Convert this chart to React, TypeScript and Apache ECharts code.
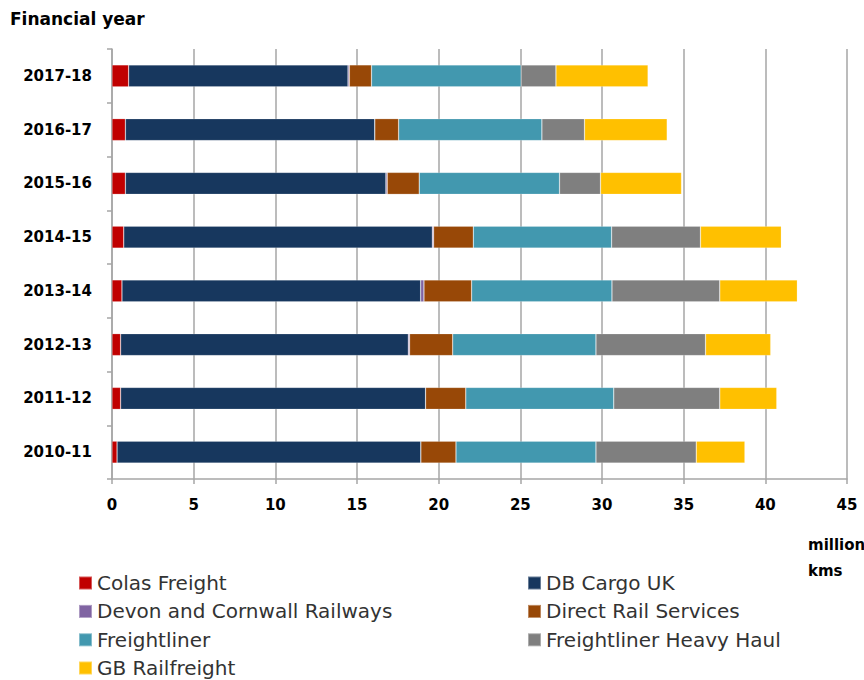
import React, { useEffect, useRef } from "react";
import * as echarts from "echarts";

const years = ["2010-11", "2011-12", "2012-13", "2013-14", "2014-15", "2015-16", "2016-17", "2017-18"];
const colas = [0.31, 0.53, 0.53, 0.61, 0.72, 0.82, 0.82, 1.02];
const dbCargo = [18.6, 18.67, 17.61, 18.29, 18.89, 15.95, 15.27, 13.43];
const devon = [0.0, 0.0, 0.08, 0.2, 0.08, 0.08, 0.0, 0.08];
const drs = [2.15, 2.46, 2.64, 2.92, 2.43, 1.96, 1.46, 1.36];
const freightliner = [8.57, 9.06, 8.77, 8.59, 8.47, 8.59, 8.77, 9.16];
const fhh = [6.14, 6.49, 6.71, 6.6, 5.44, 2.51, 2.61, 2.13];
const gbrf = [2.98, 3.49, 3.99, 4.75, 4.95, 4.96, 5.06, 5.64];

const seriesNames = [
  "Colas Freight",
  "DB Cargo UK",
  "Devon and Cornwall Railways",
  "Direct Rail Services",
  "Freightliner",
  "Freightliner Heavy Haul",
  "GB Railfreight",
];
const seriesData = [colas, dbCargo, devon, drs, freightliner, fhh, gbrf];
const colors = ["#C00000", "#17375E", "#8064A2", "#984807", "#4298AF", "#7F7F7F", "#FFC000"];

const xTicks = { min: 0, max: 45, interval: 5 };

export default function App() {
  const ref = useRef<HTMLDivElement>(null);
  useEffect(() => {
    const chart = echarts.init(ref.current!, null, { renderer: "svg" });
    const legendText = { fontFamily: "DejaVu Sans", fontSize: 20, color: "#333", lineHeight: 20 };
    const legendBase = {
      orient: "vertical",
      itemWidth: 13,
      itemHeight: 13,
      itemGap: 8.4,
      icon: "rect",
      textStyle: legendText,
    };
    chart.setOption({
      animation: false,
      grid: { left: 112, right: 17, top: 49, bottom: 201, containLabel: false },
      title: {
        text: "Financial year",
        left: 5,
        top: 5,
        textStyle: { fontFamily: "DejaVu Sans", fontWeight: "bold", fontSize: 17, color: "#000" },
      },
      xAxis: {
        type: "value",
        min: xTicks.min,
        max: xTicks.max,
        interval: xTicks.interval,
        axisLine: { show: true, lineStyle: { color: "#a6a6a6", width: 1.5 } },
        axisTick: { show: true, length: 5, lineStyle: { color: "#a6a6a6", width: 1.5 } },
        splitLine: { show: true, lineStyle: { color: "#a6a6a6", width: 1.5 } },
        axisLabel: { margin: 18, fontFamily: "DejaVu Sans", fontWeight: "bold", fontSize: 15, color: "#000" },
      },
      yAxis: {
        type: "category",
        data: years,
        axisLine: { show: true, lineStyle: { color: "#a6a6a6", width: 1.5 } },
        axisTick: { show: true, length: 5, lineStyle: { color: "#a6a6a6", width: 1.5 } },
        axisLabel: { margin: 20, fontFamily: "DejaVu Sans", fontWeight: "bold", fontSize: 15, color: "#000" },
      },
      legend: [
        { ...legendBase, data: [seriesNames[0], seriesNames[2], seriesNames[4]], left: 73, top: 568 },
        { ...legendBase, data: [seriesNames[6]], left: 73, top: 653 },
        { ...legendBase, data: [seriesNames[1], seriesNames[3], seriesNames[5]], left: 522, top: 568 },
      ],
      graphic: [
        {
          type: "text",
          left: 808,
          top: 532,
          style: {
            text: "million\nkms",
            fontFamily: "DejaVu Sans",
            fontWeight: "bold",
            fontSize: 15,
            lineHeight: 26,
            fill: "#000",
          },
        },
      ],
      series: seriesNames.map((name, i) => ({
        name,
        type: "bar",
        stack: "total",
        barWidth: 22,
        data: seriesData[i],
        itemStyle: { color: colors[i], borderColor: "rgba(255,255,255,0.35)", borderWidth: 0.6 },
      })),
    });
    return () => chart.dispose();
  }, []);
  return <div ref={ref} style={{ width: 864, height: 680, position: "absolute", left: 0, top: 0 }} />;
}
